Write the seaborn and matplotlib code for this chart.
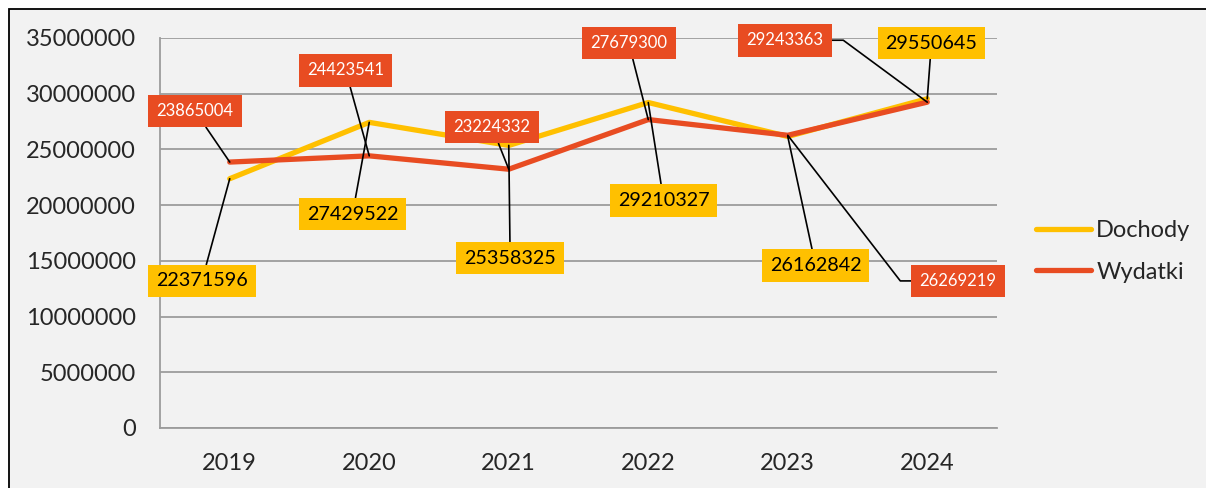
import pandas as pd
import matplotlib.pyplot as plt
import seaborn as sns
from matplotlib.patches import Rectangle
from matplotlib.ticker import FixedLocator

# Dane
lata = ['2019', '2020', '2021', '2022', '2023', '2024']
dochody = [22371596, 27429522, 25358325, 29210327, 26162842, 29550645]
wydatki = [23865004, 24423541, 23224332, 27679300, 26269219, 29243363]
y_ticks = [0, 5000000, 10000000, 15000000, 20000000, 25000000, 30000000, 35000000]

# Pozycje etykiet danych (indeks kategorii, wartość osi Y)
dochody_lab_x = [-0.20, 0.88, 2.01, 3.11, 4.20, 5.03]
dochody_lab_y = [13.2e6, 19.2e6, 15.25e6, 20.45e6, 14.55e6, 34.55e6]
wydatki_lab_x = [-0.25, 0.83, 1.88, 2.86, 5.22, 3.98]
wydatki_lab_y = [28.45e6, 32.1e6, 27.0e6, 34.55e6, 13.2e6, 34.8e6]
wydatki_conn = ['arc3', 'arc3', 'arc3', 'arc3',
                'angle,angleA=0,angleB=-52.3,rad=0',
                'angle,angleA=0,angleB=-36.4,rad=0']

kolor_d = '#FFC000'
kolor_w = '#E84C22'
szary = '#9c9c9c'

df = pd.DataFrame({
    'Rok': lata * 2,
    'Kwota': dochody + wydatki,
    'Seria': ['Dochody'] * len(lata) + ['Wydatki'] * len(lata),
})

sns.set_style('white')
plt.rcParams['font.family'] = ['Lato', 'DejaVu Sans']

fig = plt.figure(figsize=(12.06, 4.88), dpi=100, facecolor='white')
fig.add_artist(Rectangle((9 / 1206, -0.05), 1.2, 1 - 9 / 488 + 0.05,
                         transform=fig.transFigure, facecolor='#f2f2f2',
                         edgecolor='black', linewidth=1.3, zorder=-10))
ax = fig.add_axes([160 / 1206, 60 / 488, 837 / 1206, 390 / 488])
ax.set_facecolor('#f2f2f2')

sns.lineplot(data=df, x='Rok', y='Kwota', hue='Seria', sort=False,
             palette={'Dochody': kolor_d, 'Wydatki': kolor_w},
             linewidth=3.8, ax=ax)
for ln in ax.lines:
    ln.set_solid_capstyle('round')
    ln.set_solid_joinstyle('round')

ax.set_xlim(-0.5, len(lata) - 0.5)
ax.set_ylim(0, 35000000)
ax.set_yticks(y_ticks)
ax.set_yticklabels([str(v) for v in y_ticks])
ax.xaxis.set_minor_locator(FixedLocator([i - 0.5 for i in range(len(lata) + 1)]))
ax.set_xlabel('')
ax.set_ylabel('')

ax.grid(axis='y', color=szary, linewidth=1.3)
ax.grid(axis='x', visible=False)
for s in ['top', 'right']:
    ax.spines[s].set_visible(False)
for s in ['left', 'bottom']:
    ax.spines[s].set_color(szary)
    ax.spines[s].set_linewidth(1.3)

ax.tick_params(axis='y', length=6.5, width=1.3, color=szary, pad=11, labelsize=17)
ax.tick_params(axis='x', which='major', length=0, pad=18, labelsize=17)
ax.tick_params(axis='x', which='minor', length=6.5, width=1.3, color=szary)
for t in ax.get_yticklines() + ax.get_xticklines(minor=True):
    t.set_clip_on(False)

# Etykiety danych z liniami odniesienia
for i in range(len(lata)):
    ax.annotate(str(dochody[i]), xy=(i, dochody[i]),
                xytext=(dochody_lab_x[i], dochody_lab_y[i]),
                ha='center', va='center', fontsize=14.2, color='black',
                bbox=dict(boxstyle='square,pad=0.4', fc=kolor_d, ec='none'),
                arrowprops=dict(arrowstyle='-', color='black', lw=1.2,
                                shrinkA=0, shrinkB=0), zorder=5)
    ax.annotate(str(wydatki[i]), xy=(i, wydatki[i]),
                xytext=(wydatki_lab_x[i], wydatki_lab_y[i]),
                ha='center', va='center', fontsize=12, color='white',
                bbox=dict(boxstyle='square,pad=0.5', fc=kolor_w, ec='none'),
                arrowprops=dict(arrowstyle='-', color='black', lw=1.2,
                                shrinkA=0, shrinkB=0,
                                connectionstyle=wydatki_conn[i]), zorder=5)

handles, labels = ax.get_legend_handles_labels()
for h in handles:
    h.set_solid_capstyle('round')
ax.legend(handles, labels, loc='center left',
          bbox_to_anchor=(1036 / 1206, (488 - 251.5) / 488),
          bbox_transform=fig.transFigure, frameon=False, fontsize=17,
          handlelength=2.35, handletextpad=0.2, labelspacing=0.85,
          borderpad=0, borderaxespad=0)

fig.savefig('out.png', dpi=100, facecolor=fig.get_facecolor())
